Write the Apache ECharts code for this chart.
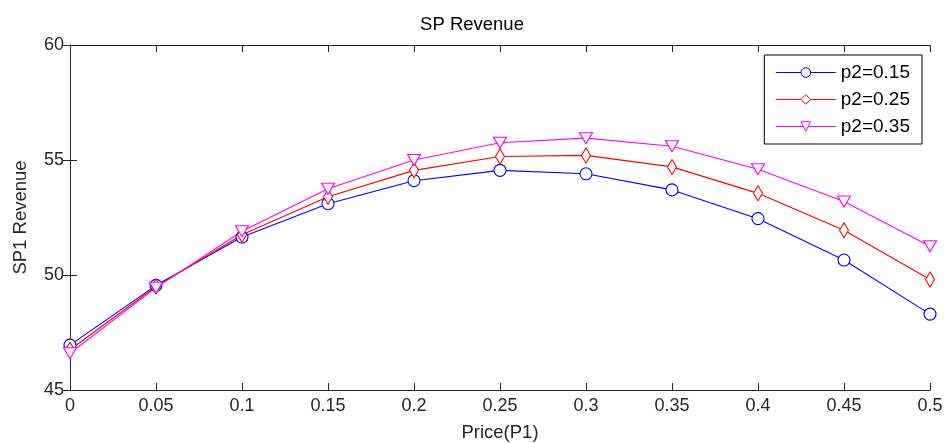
<!DOCTYPE html>
<html><head><meta charset="utf-8">
<script src="https://cdn.jsdelivr.net/npm/echarts@6/dist/echarts.min.js"></script>
<style>html,body{margin:0;padding:0;background:#fff}#c{width:944px;height:443px}</style>
</head><body><div id="c"></div>
<script>
var prices = [0, 0.05, 0.1, 0.15, 0.2, 0.25, 0.3, 0.35, 0.4, 0.45, 0.5];
var p015 = [46.95, 49.55, 51.65, 53.1, 54.1, 54.55, 54.4, 53.7, 52.45, 50.65, 48.3];
var p025 = [46.75, 49.5, 51.75, 53.4, 54.55, 55.15, 55.2, 54.7, 53.55, 51.95, 49.8];
var p035 = [46.6, 49.45, 51.9, 53.75, 55.0, 55.75, 55.95, 55.6, 54.6, 53.2, 51.25];
var names = ['p2=0.15', 'p2=0.25', 'p2=0.35'];

function pairs(v){ return prices.map(function(x,i){ return [x, v[i]]; }); }
var font = 'Liberation Sans, Arial, sans-serif';
var axisCol = '#262626';
function mk(name, vals, color, symbol, size, rot){
  return {
    name: name, type: 'line', data: pairs(vals), symbol: symbol, symbolSize: size,
    symbolRotate: rot||0, showSymbol: true,
    lineStyle: {color: color, width: 1.1},
    itemStyle: {color: '#fff', borderColor: color, borderWidth: 1.1},
    emphasis: {disabled: true}, animation: false, z: 3
  };
}
var chart = echarts.init(document.getElementById('c'), null, {renderer: 'canvas'});
chart.setOption({
  animation: false,
  backgroundColor: '#fff',
  title: {text: 'SP Revenue', left: 'center', top: 10,
    textStyle: {fontFamily: font, fontSize: 18.5, fontWeight: 'normal', color: '#000'}},
  legend: {
    orient: 'vertical', right: 22, top: 55,
    backgroundColor: '#fff', borderColor: '#000', borderWidth: 1,
    padding: [8, 12, 8, 11], itemGap: 8, itemWidth: 60, itemHeight: 12,
    itemStyle: {borderWidth: 1},
    lineStyle: {width: 1},
    textStyle: {fontFamily: font, fontSize: 19, color: '#000'},
    data: names
  },
  grid: {left: 70, right: 14, top: 45, bottom: 53, containLabel: false, outerBoundsMode: 'none'},
  xAxis: [{
    type: 'value', min: 0, max: 0.5, interval: 0.05,
    name: 'Price(P1)', nameLocation: 'middle', nameGap: 33,
    nameTextStyle: {fontFamily: font, fontSize: 18.5, color: axisCol},
    axisLine: {show: true, lineStyle: {color: axisCol, width: 1}},
    axisTick: {show: true, inside: true, length: 7, lineStyle: {color: axisCol}},
    axisLabel: {fontFamily: font, fontSize: 18, color: axisCol, margin: 7,
      formatter: function(v){ return String(Math.round(v*100)/100); }},
    splitLine: {show: false}
  }, {
    type: 'value', min: 0, max: 0.5, interval: 0.05, position: 'top',
    axisLine: {show: true, lineStyle: {color: axisCol, width: 1}},
    axisTick: {show: true, inside: true, length: 7, lineStyle: {color: axisCol}},
    axisLabel: {show: false}, splitLine: {show: false}
  }],
  yAxis: [{
    type: 'value', min: 45, max: 60, interval: 5,
    name: 'SP1 Revenue', nameLocation: 'middle', nameGap: 40, nameRotate: 90,
    nameTextStyle: {fontFamily: font, fontSize: 18.5, color: axisCol},
    axisLine: {show: true, lineStyle: {color: axisCol, width: 1}},
    axisTick: {show: true, inside: true, length: 7, lineStyle: {color: axisCol}},
    axisLabel: {fontFamily: font, fontSize: 18, color: axisCol, margin: 6},
    splitLine: {show: false}
  }, {
    type: 'value', min: 45, max: 60, interval: 5, position: 'right',
    axisLine: {show: true, lineStyle: {color: axisCol, width: 1}},
    axisTick: {show: true, inside: true, length: 7, lineStyle: {color: axisCol}},
    axisLabel: {show: false}, splitLine: {show: false}
  }],
  series: [
    mk(names[0], p015, '#0000ff', 'circle', 12),
    mk(names[1], p025, '#ff0000', 'diamond', [9, 15]),
    mk(names[2], p035, '#ff00ff', 'triangle', [13, 11], 180)
  ]
});
</script></body></html>
